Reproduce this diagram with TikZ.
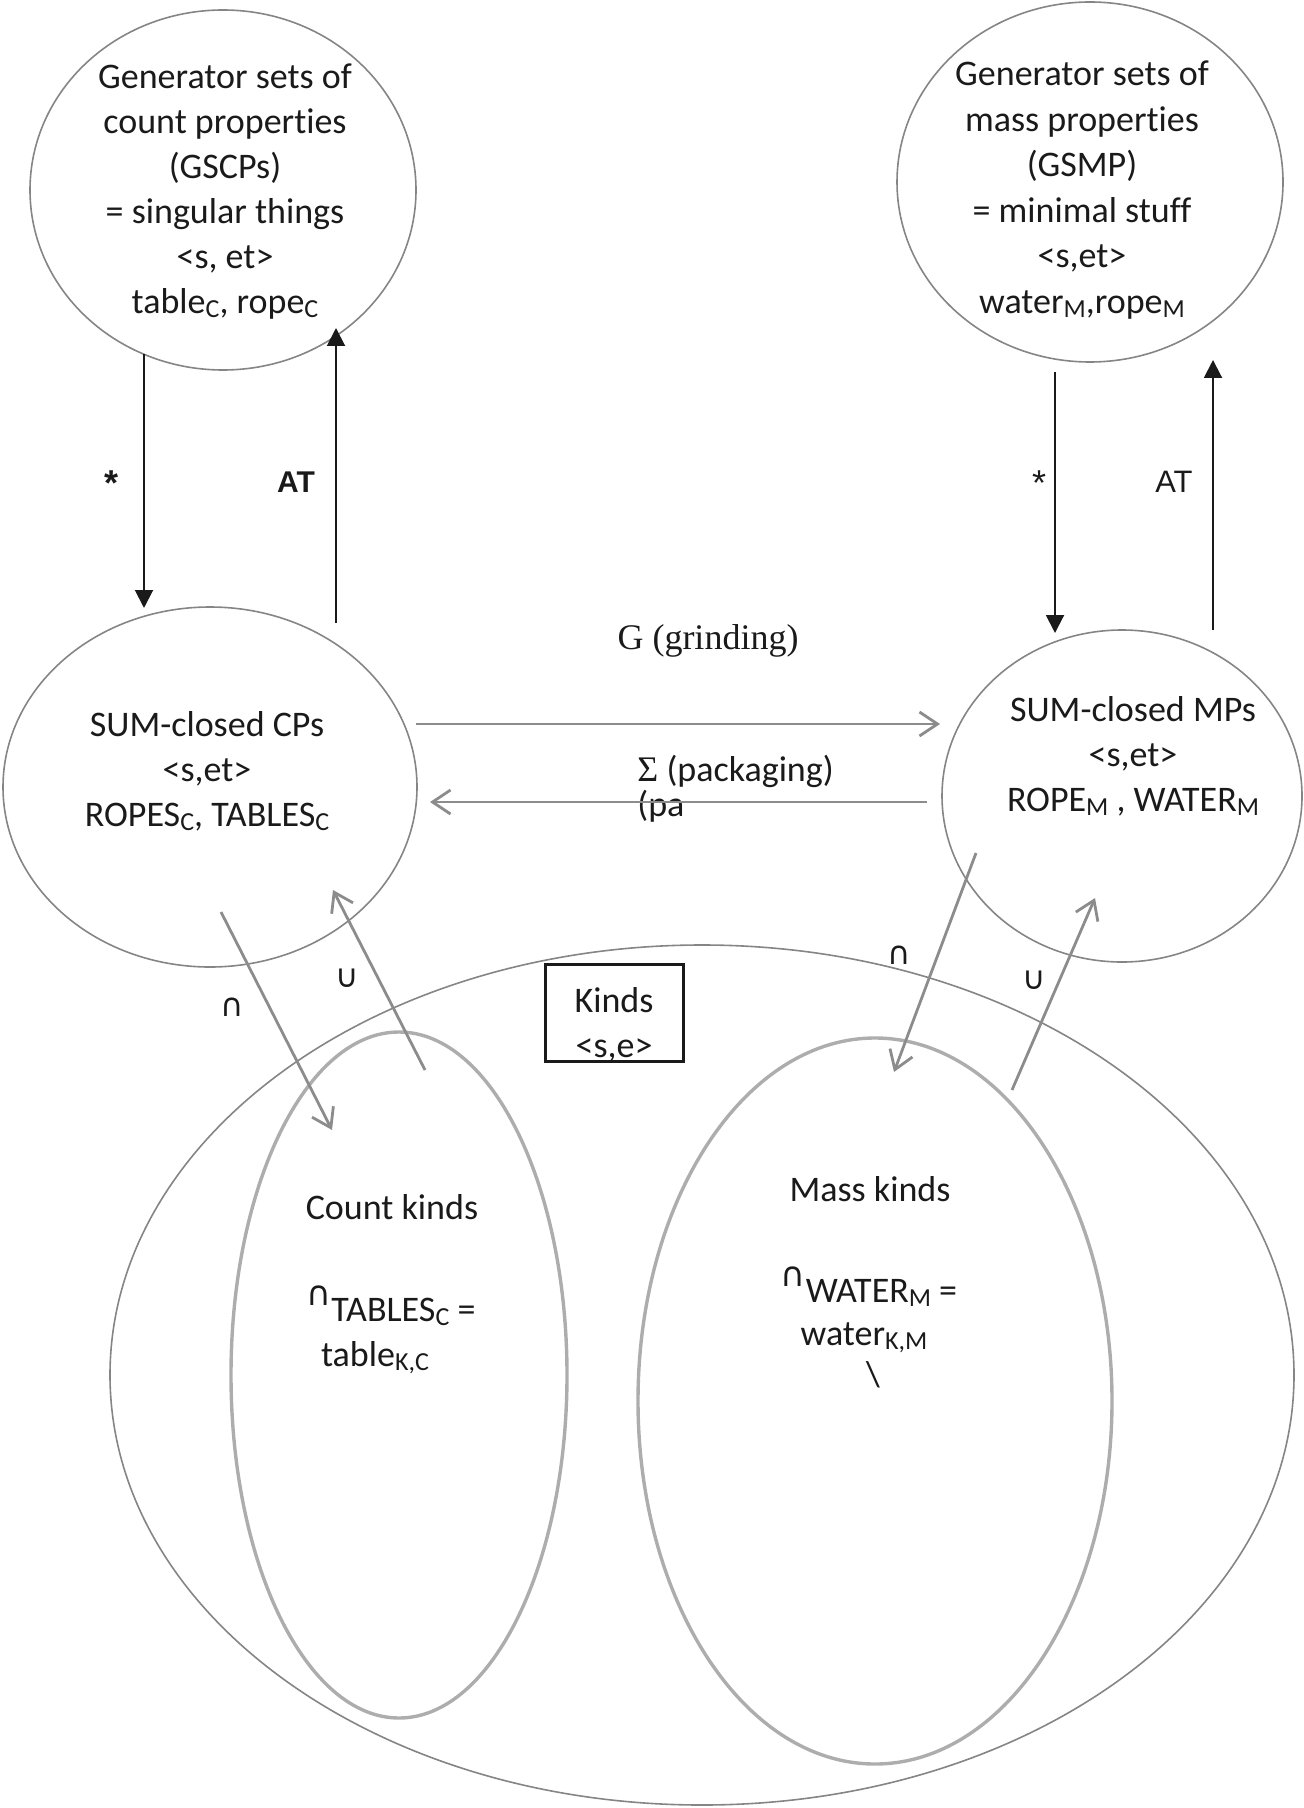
\documentclass[tikz,border=0pt]{standalone}
\usepackage{fontspec}
\setmainfont{Carlito}[Ligatures=NoCommon]
\newfontfamily\serifTNR{Liberation Serif}
\newfontfamily\arialf{Liberation Sans}
\newfontfamily\dejavu{DejaVu Sans}
\usetikzlibrary{shapes.geometric,arrows.meta}
\definecolor{ellgray}{HTML}{858585}
\definecolor{kindgray}{HTML}{ADADAD}
\definecolor{arrgray}{HTML}{8C8C8C}
\definecolor{ink}{HTML}{1A1A1A}
\newcommand\lsub[1]{\raisebox{-2pt}{\fontsize{13}{13}\selectfont #1}}
\newcommand\capsup{\raisebox{8pt}{\dejavu\fontsize{17}{17}\selectfont ∩}}
\begin{document}
\begin{tikzpicture}[x=0.5pt,y=-0.5pt,
  ellnode/.style={ellipse, draw=ellgray, line width=0.8pt, inner sep=0pt},
  kindell/.style={ellipse, draw=kindgray, line width=1.7pt, inner sep=0pt},
  kbox/.style={draw=ink, line width=1.5pt, inner sep=0pt},
  txt/.style={font=\fontsize{18}{22.5}\selectfont, align=center, inner sep=0pt, text=ink},
  txtb/.style={font=\fontsize{18}{22.8}\selectfont, align=center, inner sep=0pt, text=ink},
  lblb/.style={font=\arialf\bfseries\fontsize{15}{15}\selectfont, text=ink, inner sep=0pt},
  lbl/.style={font=\arialf\fontsize{15.5}{15.5}\selectfont, text=ink, inner sep=0pt},
  sym/.style={font=\dejavu\fontsize{16}{16}\selectfont, text=ink, inner sep=0pt},
  grayarrow/.style={draw=arrgray, line width=1.4pt, -{Straight Barb[length=9pt,width=12pt]}},
  blackarrow/.style={draw=ink, line width=1pt, -{Triangle[length=9pt,width=9pt]}}]
\useasboundingbox (0,0) rectangle (1304,1808);
% ellipses
\node[ellnode, minimum width=592pt, minimum height=430pt] (kinds) at (702,1375) {};
\node[kindell, minimum width=168pt, minimum height=343pt] (countk) at (399,1375) {};
\node[kindell, minimum width=237pt, minimum height=363pt] (massk) at (875,1401) {};
\node[ellnode, minimum width=193pt, minimum height=180pt] (gscp) at (223,190) {};
\node[ellnode, minimum width=193pt, minimum height=180pt] (gsmp) at (1090,182) {};
\node[ellnode, minimum width=207pt, minimum height=180pt] (cp) at (210,787) {};
\node[ellnode, minimum width=180pt, minimum height=166pt] (mp) at (1122,796) {};
\node[kbox, minimum width=69pt, minimum height=48.5pt] (kb) at (614,1012.5) {};
% texts
\node[txt] (gscpT) at (225,192) {Generator sets of\\count properties\\(GSCPs)\\= singular things\\<s, et>\\table\lsub{C}, rope\lsub{C}};
\node[txtb] (gsmpT) at (1082,190) {Generator sets of\\mass properties\\(GSMP)\\= minimal stuff\\<s,et>\\water\lsub{M},rope\lsub{M}};
\node[txt] (cpT) at (207,771) {SUM-closed CPs\\<s,et>\\ROPES\lsub{C}, TABLES\lsub{C}};
\node[txt] (mpT) at (1133,756) {SUM-closed MPs\\<s,et>\\ROPE\lsub{M} , WATER\lsub{M}};
\node[txt] (kbT) at (614,1025) {Kinds\\<s,e>};
\node[txt] (countT) at (392,1207) {Count kinds};
\node[txt] (countF1) at (391,1306) {\capsup TABLES\lsub{C} =};
\node[txt] (countF2) at (375,1358) {table\lsub{K,C}};
\node[txt] (massT) at (870,1189) {Mass kinds};
\node[txt] (massF1) at (869,1287) {\capsup WATER\lsub{M} =};
\node[txt] (massF2) at (864,1338) {water\lsub{K,M}};
\node[txt] (bslash) at (873,1375) {\textbackslash};
% middle labels
\node[txt, font=\serifTNR\fontsize{18}{22}\selectfont] (glab) at (708,641) {G (grinding)};
\node[txt, anchor=west] (slab) at (637,771) {{\serifTNR Σ} (packaging)};
\node[txt, anchor=west] (palab) at (637,806) {(pa};
% arrow labels
\node[lblb, font=\arialf\bfseries\fontsize{18}{18}\selectfont] (starL) at (112,483) {*};
\node[lblb] (atL) at (296,482) {AT};
\node[lbl, font=\arialf\fontsize{18}{18}\selectfont] (starR) at (1039,483) {*};
\node[lbl] (atR) at (1174,482) {AT};
\node[sym] (capL) at (232,1007) {∩};
\node[sym] (cupL) at (347,978) {∪};
\node[sym] (capR) at (899,955) {∩};
\node[sym] (cupR) at (1034,980) {∪};
% connector ends
\coordinate (s1a) at (144,354); \coordinate (s1b) at (144,608);
\coordinate (a1a) at (336,623); \coordinate (a1b) at (336,328);
\coordinate (s2a) at (1055,372); \coordinate (s2b) at (1055,633);
\coordinate (a2a) at (1213,630); \coordinate (a2b) at (1213,360);
\coordinate (ga) at (416,724); \coordinate (gb) at (940,724);
\coordinate (pa) at (927,802); \coordinate (pb) at (430,802);
\coordinate (cla) at (221,912); \coordinate (clb) at (332,1130);
\coordinate (ula) at (425,1070); \coordinate (ulb) at (333,890);
\coordinate (cra) at (976,853); \coordinate (crb) at (894,1072);
\coordinate (ura) at (1012,1090); \coordinate (urb) at (1095,898);
% connectors
\draw[blackarrow] (s1a) -- (s1b);
\draw[blackarrow] (a1a) -- (a1b);
\draw[blackarrow] (s2a) -- (s2b);
\draw[blackarrow] (a2a) -- (a2b);
\draw[grayarrow] (ga) -- (gb);
\draw[grayarrow] (pa) -- (pb);
\draw[grayarrow] (cla) -- (clb);
\draw[grayarrow] (ula) -- (ulb);
\draw[grayarrow] (cra) -- (crb);
\draw[grayarrow] (ura) -- (urb);
\end{tikzpicture}
\end{document}
